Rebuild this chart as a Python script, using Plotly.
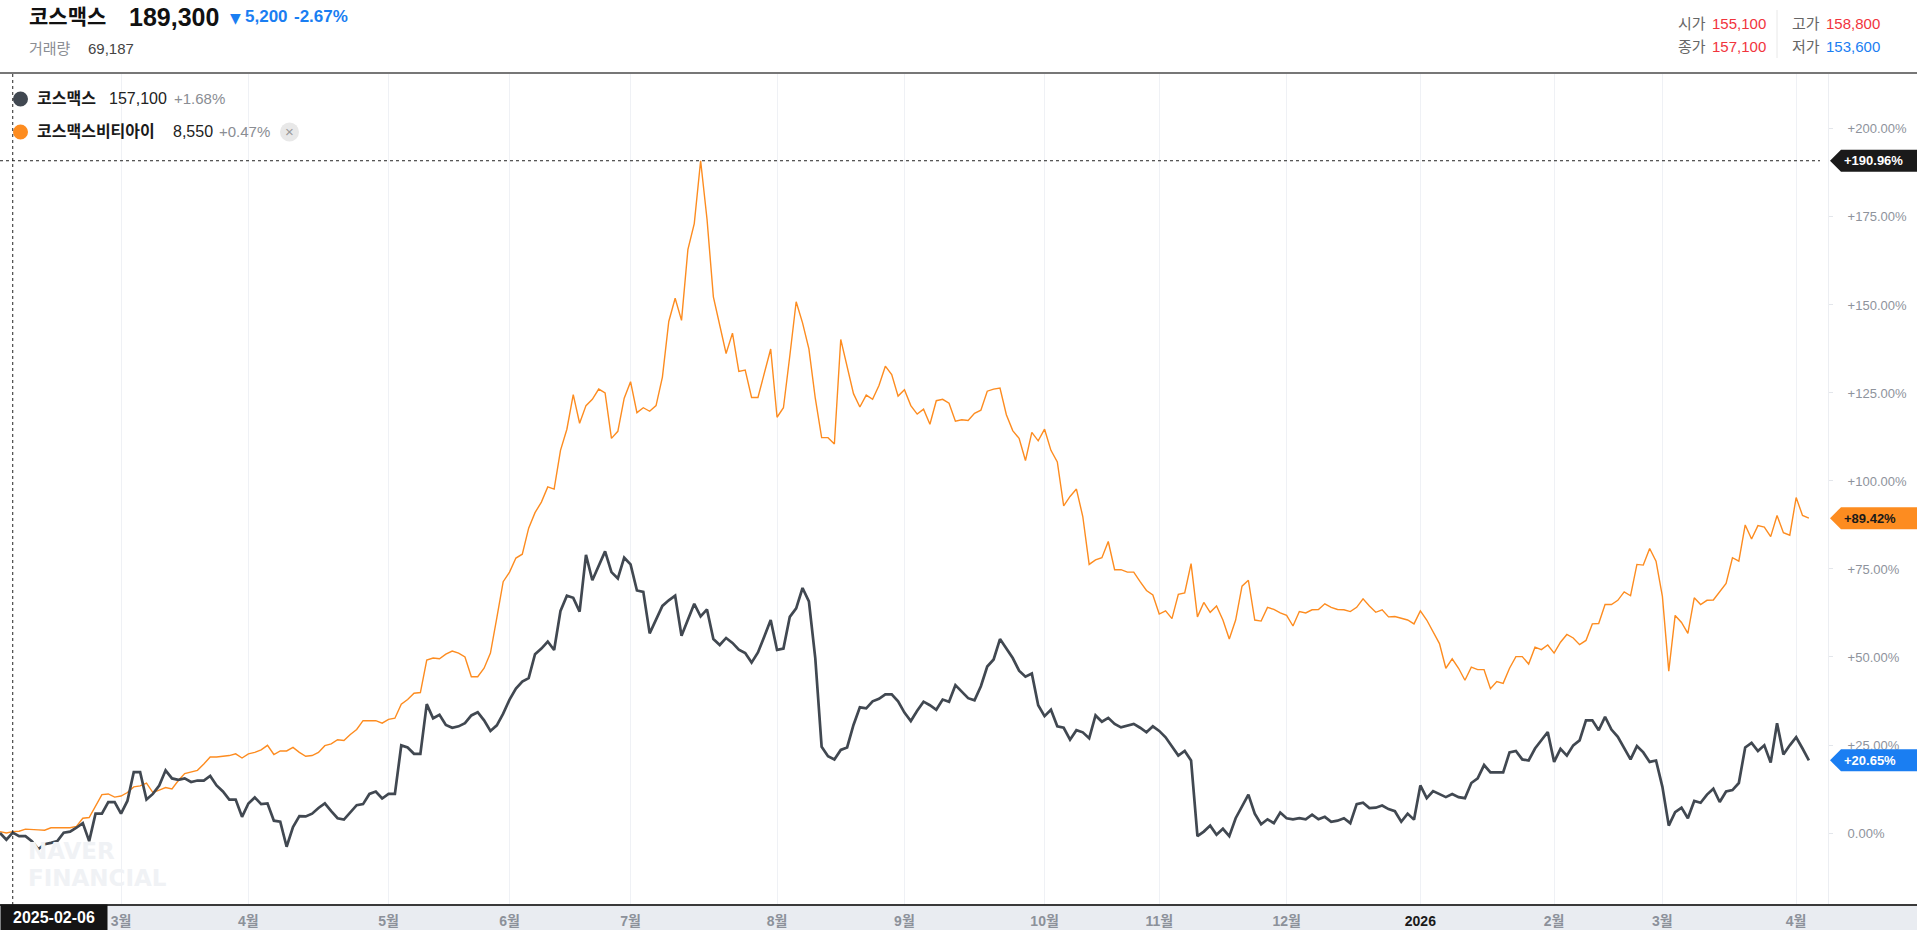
import pandas as pd
import plotly.graph_objects as go

# ---------------- data ----------------
start_date = "2025-02-04"
end_date = "2026-04-03"
krx_holidays = ["2025-03-03", "2025-05-01", "2025-05-05", "2025-05-06", "2025-06-03",
                "2025-06-06", "2025-08-15", "2025-10-03", "2025-10-06", "2025-10-07",
                "2025-10-08", "2025-10-09", "2025-12-25", "2025-12-31", "2026-01-01",
                "2026-02-16", "2026-02-17", "2026-02-18", "2026-03-02"]

cosmax_pct = [
    0.0, -1.9, 0.1, -0.9, -0.9, -2.3, -4.6, -3.2, -2.8, -2.3,
    0.1, 0.4, 1.5, 2.8, -2.3, 5.5, 5.5, 8.8, 8.8, 5.5,
    9.1, 17.3, 17.3, 9.5, 11.1, 13.5, 17.8, 15.5, 15.1, 15.5,
    14.5, 14.9, 14.9, 16.2, 13.5, 11.8, 9.5, 9.5, 4.6, 8.4,
    10.1, 8.2, 8.4, 3.5, 3.2, -3.9, 1.7, 4.8, 4.7, 5.5,
    7.1, 8.4, 6.2, 4.2, 3.8, 5.8, 7.9, 8.2, 11.1, 11.8,
    9.8, 11.1, 11.1, 24.9, 24.3, 22.5, 22.5, 36.6, 32.6, 33.6,
    30.7, 29.9, 30.3, 31.2, 33.4, 34.3, 32.0, 29.0, 30.6, 33.9,
    37.9, 41.0, 43.0, 44.0, 50.8, 52.4, 54.4, 52.0, 63.1, 67.4,
    66.8, 62.9, 79.0, 71.8, 75.9, 80.0, 74.1, 72.3, 78.2, 76.3,
    68.9, 68.5, 56.7, 60.5, 64.5, 66.1, 67.4, 56.0, 60.7, 65.1,
    61.5, 63.5, 55.1, 53.4, 55.4, 54.0, 52.1, 51.1, 48.4, 51.3,
    55.8, 60.5, 52.0, 52.4, 61.4, 63.8, 69.6, 65.8, 49.7, 24.5,
    21.8, 20.9, 23.6, 24.3, 30.7, 35.7, 35.4, 37.4, 38.1, 39.4,
    39.4, 37.4, 34.2, 31.8, 34.7, 37.3, 36.3, 35.0, 37.9, 37.3,
    42.0, 40.1, 38.3, 37.7, 41.7, 47.3, 49.3, 55.1, 52.4, 49.7,
    46.1, 44.4, 45.3, 36.3, 33.2, 35.0, 30.3, 29.9, 26.5, 29.2,
    28.6, 26.9, 33.4, 31.6, 32.7, 31.0, 30.0, 30.6, 31.0, 29.9,
    28.6, 30.3, 29.0, 27.2, 24.5, 22.0, 23.3, 20.6, -0.9, 0.4,
    2.1, -0.5, 1.2, -0.9, 4.2, 7.5, 10.9, 5.5, 2.5, 3.9,
    2.8, 5.8, 4.2, 3.9, 4.2, 3.9, 5.2, 3.9, 4.6, 3.2,
    3.5, 4.2, 2.8, 8.2, 8.6, 7.1, 7.2, 7.8, 6.8, 6.2,
    3.2, 5.5, 3.8, 13.5, 9.9, 11.9, 11.1, 10.2, 11.1, 10.2,
    9.9, 14.2, 15.5, 19.3, 17.2, 17.2, 17.2, 22.9, 23.3, 20.9,
    20.6, 24.0, 26.5, 28.7, 20.2, 23.9, 22.0, 24.9, 26.3, 32.0,
    32.0, 29.2, 33.0, 29.4, 27.3, 24.3, 20.9, 24.7, 22.9, 20.2,
    20.6, 13.1, 2.1, 5.9, 7.2, 4.2, 9.1, 8.6, 10.9, 12.6,
    8.8, 11.8, 12.2, 14.2, 24.3, 25.6, 23.3, 24.9, 20.0, 31.2,
    22.3, 24.9, 27.2, 24.0, 20.65,
]

cosmax_bti_pct = [
    0.4, 0.0, 0.4, 0.5, 1.1, 0.9, 0.9, 0.8, 1.5, 1.5,
    1.6, 1.5, 1.9, 4.2, 4.4, 7.5, 10.9, 11.1, 10.2, 10.5,
    11.5, 13.1, 13.4, 14.2, 11.5, 12.2, 12.9, 12.5, 14.9, 16.9,
    17.3, 17.8, 19.6, 21.6, 21.6, 21.8, 22.0, 22.5, 21.3, 22.5,
    22.9, 23.6, 24.9, 22.3, 23.3, 23.3, 24.3, 22.9, 21.8, 22.0,
    22.9, 24.8, 25.3, 26.5, 26.3, 28.0, 29.4, 31.9, 32.0, 31.9,
    31.2, 32.3, 32.6, 36.6, 37.9, 39.7, 39.9, 49.1, 49.7, 49.5,
    50.8, 51.7, 51.1, 50.0, 44.4, 44.4, 46.8, 51.1, 61.1, 71.4,
    74.1, 78.1, 79.2, 86.6, 91.0, 94.0, 98.3, 97.7, 108.7, 114.7,
    124.5, 116.4, 121.4, 123.2, 126.1, 125.0, 112.1, 114.1, 123.5, 128.2,
    119.4, 120.8, 119.8, 121.4, 129.5, 145.3, 151.9, 145.6, 165.7, 173.1,
    190.96, 174.4, 152.3, 144.2, 136.2, 142.0, 131.1, 131.5, 123.7, 123.7,
    130.8, 137.5, 118.1, 120.8, 135.5, 150.9, 144.9, 137.5, 123.5, 112.3,
    112.3, 110.5, 140.2, 132.2, 124.8, 121.0, 124.4, 123.2, 127.1, 132.6,
    130.2, 124.1, 125.9, 121.4, 119.0, 120.4, 116.1, 122.8, 123.2, 122.1,
    117.0, 117.4, 117.2, 119.2, 120.1, 125.5, 126.1, 126.4, 118.8, 114.3,
    112.1, 105.8, 113.8, 111.4, 114.7, 108.7, 105.4, 92.9, 95.6, 97.7,
    89.9, 76.3, 77.6, 78.2, 82.8, 74.8, 74.8, 74.1, 74.1, 71.4,
    68.9, 67.6, 62.2, 63.1, 60.9, 67.8, 68.2, 76.5, 61.4, 65.5,
    62.7, 64.5, 60.5, 55.1, 60.5, 70.1, 71.8, 60.5, 60.2, 64.1,
    63.5, 62.5, 61.8, 58.8, 62.9, 62.5, 63.4, 63.5, 65.1, 64.1,
    63.5, 63.4, 62.9, 64.1, 66.5, 64.5, 62.7, 63.4, 61.4, 61.5,
    61.1, 60.5, 59.4, 63.1, 60.5, 57.1, 53.8, 46.8, 49.5, 46.8,
    43.4, 47.1, 46.4, 46.4, 41.0, 43.0, 42.5, 46.8, 50.1, 50.1,
    48.0, 52.8, 52.1, 53.4, 51.1, 54.2, 56.4, 55.4, 53.5, 54.7,
    59.4, 59.5, 64.9, 64.9, 66.1, 68.5, 67.4, 76.3, 76.1, 80.8,
    77.2, 67.2, 46.0, 61.8, 59.8, 56.7, 66.8, 64.9, 66.1, 66.2,
    68.5, 70.9, 78.2, 77.2, 87.5, 83.5, 87.3, 86.9, 84.2, 90.2,
    85.3, 84.6, 95.3, 90.2, 89.42,
]

x_tick_text = ["3월", "4월", "5월", "6월", "7월", "8월", "9월", "10월", "11월", "12월",
               "2026", "2월", "3월", "4월"]
y_tick_vals = [0, 25, 50, 75, 100, 125, 150, 175, 200]
y_tick_text = ["0.00%", "+25.00%", "+50.00%", "+75.00%", "+100.00%", "+125.00%",
               "+150.00%", "+175.00%", "+200.00%"]
crosshair_date = "2025-02-06"

series_names = ["코스맥스", "코스맥스비티아이"]
series_prices = ["157,100", "8,550"]
series_changes = ["+1.68%", "+0.47%"]

header_name = "코스맥스"
header_price = "189,300"
header_diff = "5,200"
header_rate = "-2.67%"
header_volume = "69,187"
ohlc = {"시가": "155,100", "고가": "158,800", "종가": "157,100", "저가": "153,600"}

# ---------------- dates (trading days) ----------------
bd = pd.bdate_range(start_date, end_date)
bd = bd[~bd.isin(pd.to_datetime(krx_holidays))]
dates = [d.strftime("%Y-%m-%d") for d in bd]

month_first = []
seen = set()
for d in bd:
    key = (d.year, d.month)
    if key not in seen:
        seen.add(key)
        month_first.append(d.strftime("%Y-%m-%d"))
month_first = month_first[1:]

ticktext = [f'<span style="color:#1a1a1a">{t}</span>' if t == "2026" else t for t in x_tick_text]

# ---------------- style / layout helpers ----------------
W, H = 1917, 930
L, R, T, B = 0, 1828, 74, 905
DARK = "#414851"
ORANGE = "#fd8c20"
BLUE = "#1a7ef2"
RED = "#f1343d"
FONT = "Liberation Sans, Arial, Noto Sans CJK KR, sans-serif"


def fx(px):
    return (px - L) / (R - L)


def fy(py):
    return (B - py) / (B - T)


fig = go.Figure()
fig.add_trace(go.Scatter(x=dates, y=cosmax_bti_pct, mode="lines",
                         line=dict(color=ORANGE, width=1.4), name=series_names[1]))
fig.add_trace(go.Scatter(x=dates, y=cosmax_pct, mode="lines",
                         line=dict(color=DARK, width=2.7), name=series_names[0]))

ann = []
shapes = []


def text(px, py, s, size, color, anchor="left", bold=False, family=FONT, **kw):
    ann.append(dict(x=fx(px), y=fy(py), xref="paper", yref="paper", text=(f"<b>{s}</b>" if bold else s),
                    showarrow=False, xanchor=anchor, yanchor="middle",
                    font=dict(size=size, color=color, family=family), **kw))


# header
text(27, 17, header_name, 21, "#111", bold=True)
text(127, 17, header_price, 25, "#111", bold=True)
text(228, 18, "▼", 14, BLUE, family="DejaVu Sans")
text(243, 17, header_diff, 17, BLUE, bold=True)
text(292, 17, header_rate, 17, BLUE, bold=True)
text(27, 49, "거래량", 15, "#8a8d93")
text(86, 49, header_volume, 15, "#444")

keys = list(ohlc.keys())
pos = [(1676, 23), (1790, 23), (1676, 47), (1790, 47)]
for k, (px, py) in zip(keys, pos):
    text(px, py, k, 15, "#666")
    text(px + 34, py, ohlc[k], 15, BLUE if k == "저가" else RED)
shapes.append(dict(type="line", xref="paper", yref="paper", x0=fx(1777), x1=fx(1777),
                   y0=fy(10), y1=fy(58), line=dict(color="#e8e8e8", width=1)))

# top separator
shapes.append(dict(type="line", xref="paper", yref="paper", x0=0, x1=fx(W),
                   y0=fy(73), y1=fy(73), line=dict(color="#4a4a4a", width=1.5)))

# legend rows
legend_rows = [(99, DARK), (132, ORANGE)]
for i, (py, col) in enumerate(legend_rows):
    shapes.append(dict(type="circle", xref="paper", yref="paper", xsizemode="pixel", ysizemode="pixel",
                       xanchor=fx(20.5), yanchor=fy(py), x0=-7.5, x1=7.5, y0=-7.5, y1=7.5,
                       fillcolor=col, line=dict(width=0)))
    text(35, py, series_names[i], 16, "#1a1a1a", bold=True)
    nx = 107 if i == 0 else 171
    text(nx, py, series_prices[i], 16, "#222")
    cx = 172 if i == 0 else 217
    text(cx, py, series_changes[i], 15, "#8a8d93")
shapes.append(dict(type="circle", xref="paper", yref="paper", xsizemode="pixel", ysizemode="pixel",
                   xanchor=fx(289.5), yanchor=fy(132), x0=-9.5, x1=9.5, y0=-9.5, y1=9.5,
                   fillcolor="#e8e8e8", line=dict(width=0)))
text(289.5, 132, "×", 15, "#9a9a9a", anchor="center")

# watermark
text(26, 851, "NAVER", 23, "#f0f2f5", bold=True, family="DejaVu Sans")
text(26, 878, "FINANCIAL", 23, "#f0f2f5", bold=True, family="DejaVu Sans")

# bottom band
shapes.append(dict(type="rect", xref="paper", yref="paper", x0=0, x1=fx(W), y0=fy(H), y1=0,
                   fillcolor="#e9ecf1", line=dict(width=0), layer="below"))
shapes.append(dict(type="line", xref="paper", yref="paper", x0=0, x1=fx(W), y0=0, y1=0,
                   line=dict(color="#3a3a3a", width=2)))

# crosshair
peak = max(cosmax_bti_pct)
shapes.append(dict(type="line", xref="paper", yref="y", x0=0, x1=fx(1820), y0=peak, y1=peak,
                   line=dict(color="#222", width=1, dash="dot")))
shapes.append(dict(type="line", xref="x", yref="paper", x0=crosshair_date, x1=crosshair_date,
                   y0=0, y1=1, line=dict(color="#222", width=1, dash="dot")))
ann.append(dict(x=0, y=fy(917.5), xref="paper", yref="paper", text=f"<b>{crosshair_date}</b>",
                showarrow=False, xanchor="left", yanchor="middle", bgcolor="#151515",
                width=102, height=21, borderpad=2, align="center",
                font=dict(size=16, color="white", family=FONT)))

# right value tags
tags = [(peak, "#1a1a1a", "white"), (cosmax_bti_pct[-1], ORANGE, "#1a1a1a"), (cosmax_pct[-1], BLUE, "white")]
for val, bg, fg in tags:
    shapes.append(dict(type="path", xref="paper", yref="y", xsizemode="pixel", ysizemode="pixel",
                       xanchor=fx(1830), yanchor=val,
                       path="M 0 0 L 11 11 L 90 11 L 90 -11 L 11 -11 Z",
                       fillcolor=bg, line=dict(width=0)))
    ann.append(dict(x=fx(1842), y=val, xref="paper", yref="y", text=f"<b>{val:+.2f}%</b>",
                    showarrow=False, xanchor="left", yanchor="middle",
                    font=dict(size=13, color=fg, family=FONT)))

fig.update_layout(
    width=W, height=H,
    margin=dict(l=L, r=W - R, t=T, b=H - B, pad=0),
    paper_bgcolor="white", plot_bgcolor="white",
    showlegend=False, hovermode=False, dragmode=False,
    font=dict(family=FONT),
    annotations=ann, shapes=shapes,
    xaxis=dict(type="category", range=[0, 287], tickvals=month_first, ticktext=ticktext,
               showgrid=True, gridcolor="#eff1f5", gridwidth=1, zeroline=False, showline=False,
               ticks="", ticklabelstandoff=6,
               tickfont=dict(size=14, color="#8c919a", family=FONT, weight="bold")),
    yaxis=dict(side="right", range=[-20.45, 215.6], tickvals=y_tick_vals, ticktext=y_tick_text,
               showgrid=False, zeroline=False, showline=True, linecolor="#eceef2", linewidth=1,
               ticks="outside", ticklen=4, tickcolor="#e3e6eb", ticklabelstandoff=12,
               tickfont=dict(size=13, color="#8e939c", family=FONT)),
)

fig.write_html("out.html", config={"displayModeBar": False, "staticPlot": True},
               post_script="document.body.style.margin='0';document.body.style.overflow='hidden';")
